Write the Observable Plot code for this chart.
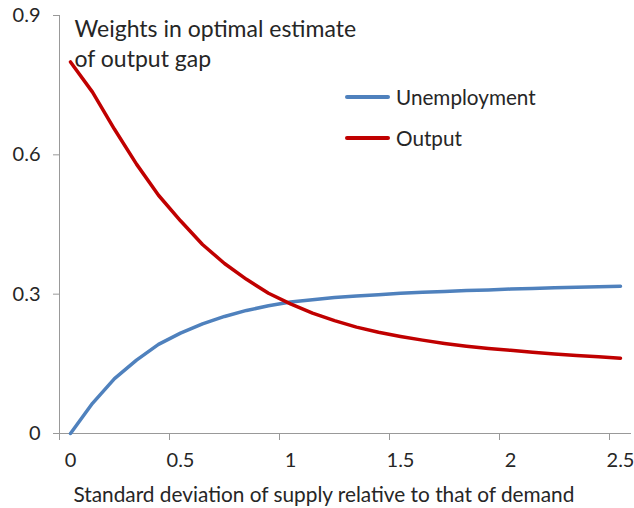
<!DOCTYPE html>
<html>
<head>
<meta charset="utf-8">
<script src="https://cdn.jsdelivr.net/npm/d3@7"></script>
<script src="https://cdn.jsdelivr.net/npm/@observablehq/plot@0.6"></script>
<style>
  html, body { margin: 0; padding: 0; background: #fff; }
  #wrap { position: relative; width: 634px; height: 508px; font-family: Lato, "Noto Sans", sans-serif; }
  #legend { position: absolute; left: 345px; top: 84px; font-size: 20.7px; color: #262626; }
  .item { display: flex; align-items: center; height: 26px; margin-bottom: 15px; }
  .sw { width: 45px; height: 4px; border-radius: 2px; margin-right: 6px; }
</style>
</head>
<body>
<div id="wrap"><div id="legend"></div></div>
<script>
// Standard deviation of supply relative to that of demand (categories)
const sdRatio = [0,0.1,0.2,0.3,0.4,0.5,0.6,0.7,0.8,0.9,1.0,1.1,1.2,1.3,1.4,1.5,1.6,1.7,1.8,1.9,2.0,2.1,2.2,2.3,2.4,2.5];
const unemployment = [0,0.065,0.118,0.158,0.192,0.216,0.236,0.252,0.265,0.275,0.283,0.288,0.293,0.296,0.299,0.302,0.304,0.306,0.308,0.309,0.311,0.312,0.314,0.315,0.316,0.317];
const output = [0.80,0.735,0.655,0.58,0.513,0.458,0.407,0.366,0.332,0.302,0.279,0.259,0.243,0.229,0.218,0.209,0.201,0.194,0.188,0.183,0.179,0.175,0.171,0.168,0.165,0.162];
const seriesNames = ["Unemployment", "Output"];
const seriesColors = ["#4F81BD", "#C00000"];
const yTicks = [0, 0.3, 0.6, 0.9];
const yTickLabels = ["0", "0.3", "0.6", "0.9"];
const xTicks = [0, 0.5, 1, 1.5, 2, 2.5];
const xTickLabels = ["0", "0.5", "1", "1.5", "2", "2.5"];
const titleText = "Weights in optimal estimate\nof output gap";
const xLabel = "Standard deviation of supply relative to that of demand";

const half = 0.05; // half category width
const xBoundaries = xTicks.map(t => +(t - half).toFixed(2));
const rows = [];
sdRatio.forEach((x, i) => {
  rows.push({x, y: unemployment[i], s: seriesNames[0]});
  rows.push({x, y: output[i], s: seriesNames[1]});
});

const axisColor = "#999";
const textColor = "#262626";

const chart = Plot.plot({
  width: 634, height: 508,
  marginLeft: 59, marginRight: 3, marginTop: 15, marginBottom: 75,
  style: {fontFamily: "Lato, 'Noto Sans', sans-serif", fontSize: "20px", color: textColor, background: "#fff"},
  x: {domain: [sdRatio[0] - half, sdRatio[sdRatio.length - 1] + half]},
  y: {domain: [0, 0.9]},
  color: {domain: seriesNames, range: seriesColors},
  marks: [
    Plot.axisY(yTicks, {tickSize: 6, tickPadding: 13, stroke: axisColor, fill: textColor, fontSize: 20,
      tickFormat: d => yTickLabels[yTicks.indexOf(d)], label: null}),
    Plot.axisX(xBoundaries, {tickSize: 7, stroke: axisColor, tickFormat: () => "", label: null}),
    Plot.axisX(xTicks, {tickSize: 0, tickPadding: 19, fill: textColor, fontSize: 20,
      tickFormat: d => xTickLabels[xTicks.indexOf(d)], label: null}),
    Plot.ruleX([sdRatio[0] - half], {stroke: axisColor}),
    Plot.ruleY([0], {stroke: axisColor}),
    Plot.line(rows, {x: "x", y: "y", z: "s", stroke: "s", strokeWidth: 3.5, strokeLinejoin: "round", strokeLinecap: "round"}),
    Plot.text([titleText], {frameAnchor: "top-left", dx: 15, dy: 0, textAnchor: "start", lineAnchor: "top",
      lineHeight: 1.3, fontSize: 23, fill: textColor}),
    Plot.text([xLabel], {frameAnchor: "bottom-left", dx: 14, dy: 62, textAnchor: "start", lineAnchor: "middle",
      fontSize: 20.8, fill: textColor})
  ]
});
const wrap = document.getElementById("wrap");
wrap.insertBefore(chart, wrap.firstChild);

const legend = document.getElementById("legend");
seriesNames.forEach((name, i) => {
  const item = document.createElement("div");
  item.className = "item";
  const sw = document.createElement("span");
  sw.className = "sw";
  sw.style.background = seriesColors[i];
  const label = document.createElement("span");
  label.textContent = name;
  item.appendChild(sw);
  item.appendChild(label);
  legend.appendChild(item);
});
</script>
</body>
</html>
